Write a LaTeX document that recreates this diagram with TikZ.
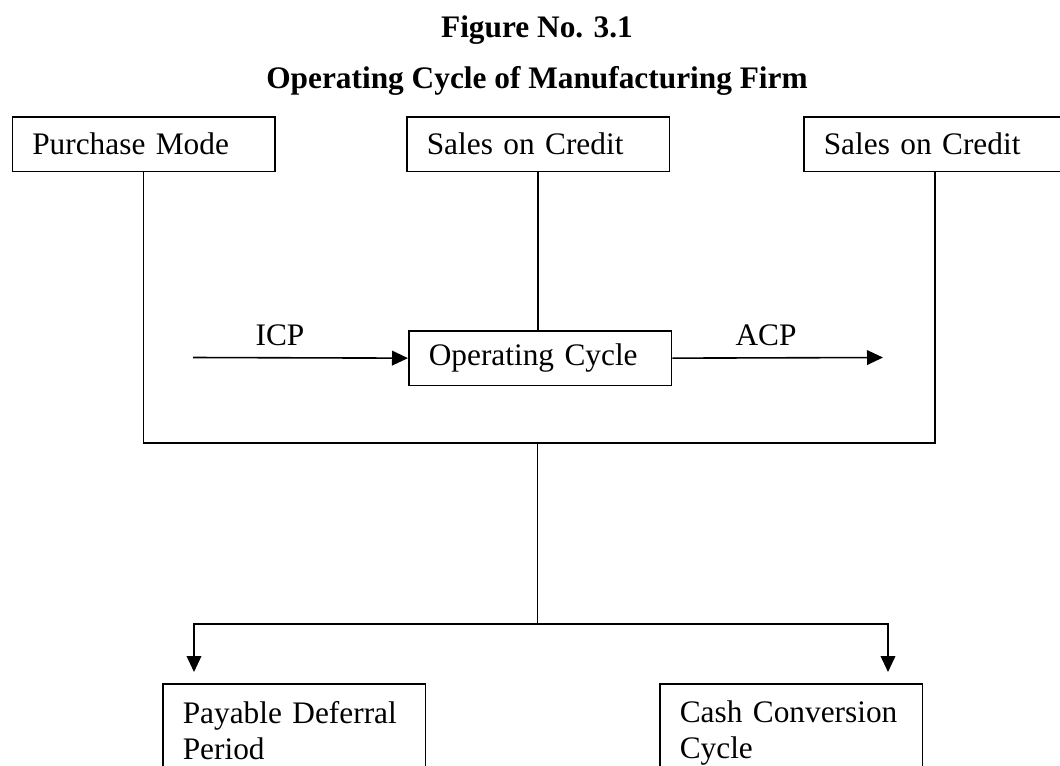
\documentclass[tikz,border=0pt]{standalone}
\usepackage{fontspec}
\setmainfont{Liberation Serif}
\usepackage{tikz}
\usetikzlibrary{positioning}
\usetikzlibrary{arrows.meta}

\begin{document}
\begin{tikzpicture}[x=0.75pt,y=-0.75pt,line width=1.2pt,
        every node/.style={font=\fontsize{23.5}{27}\selectfont},
        box/.style={draw,anchor=north west,align=left,text width=167pt,inner xsep=15pt,minimum height=41pt},
        tallbox/.style={box,minimum height=0pt,inner ysep=13pt},
        arr/.style={-{Triangle[length=12pt,width=11pt]}}]
        \useasboundingbox (0,0) rectangle (1060,765);
        \clip (0,0) rectangle (1060,765);
        %\node[above] at (537,0) {};
        \node[anchor=base,font=\fontsize{23.5}{27}\selectfont\bfseries] (title) at (537,37) {Figure No. 3.1};
        \node[anchor=base,font=\fontsize{23.5}{27}\selectfont\bfseries] (subtitle) at (537,88) {Operating Cycle of Manufacturing Firm};

        \node[box] (purchase) at (11.5,116) {Purchase Mode};
        \node[box] (credit) at (406,116) {Sales on Credit};
        \node[box] (credittwo) at (803,116) {Sales on Credit};
        \node[box] (opcycle) at (408,330) {Operating Cycle};
        \node[tallbox] (payable) at (162,683) {Payable Deferral\\Period};
        \node[tallbox] (cashconv) at (659,683) {Cash Conversion\\Cycle};

        \node[anchor=base] (icp) at (280,345) {ICP};
        \node[anchor=base] (acp) at (766,345) {ACP};

        \coordinate (join) at (537.5,443);
        \coordinate (split) at (537.5,624);
        \coordinate (icpstart) at (193,357.5);
        \coordinate (acpend) at (883,357.5);
        \coordinate (pdtip) at (194,672);
        \coordinate (ccctip) at (888,672);

        \draw (purchase.south) |- (join) -| (credittwo.south);
        \draw (credit.south) -- (credit.south |- opcycle.north);
        \draw[arr] (icpstart) -- (opcycle.west);
        \draw[arr] (opcycle.east) -- (acpend);
        \draw (join) -- (split);
        \draw[arr] (split) -| (pdtip);
        \draw[arr] (split) -| (ccctip);
    \end{tikzpicture}
\end{document}
